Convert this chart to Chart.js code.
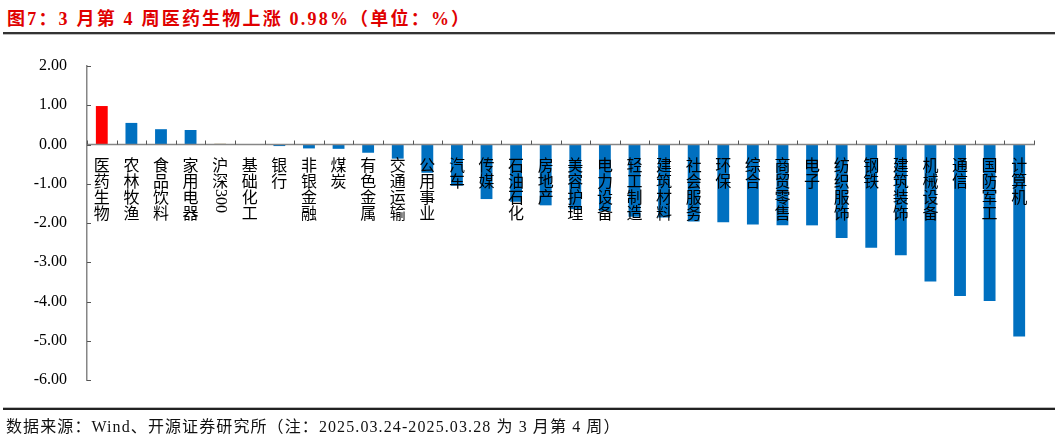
<!DOCTYPE html>
<html>
<head>
<meta charset="utf-8">
<script src="https://cdn.jsdelivr.net/npm/chart.js@4.4.1/dist/chart.umd.min.js"></script>
<style>
  html, body { margin: 0; padding: 0; background: #fff; }
  body { width: 1057px; height: 439px; position: relative; overflow: hidden; }
  #title {
    position: absolute; left: 7px; top: 4px;
    font: bold 18px "Liberation Serif", "Noto Sans CJK SC", serif;
    letter-spacing: 2.2px;
    color: #e00000; white-space: nowrap;
  }
  .rule { position: absolute; left: 3px; width: 1052px; }
  #topRule { top: 32px; height: 2px; background: #333; border-bottom: 1px solid #bbb; }
  #bottomRule { top: 407px; height: 2px; background: #222; border-top: 1px solid #bbb; }
  #source {
    position: absolute; left: 6px; top: 413px;
    font: 16px "Liberation Serif", "Noto Sans CJK SC", serif;
    letter-spacing: 1.1px;
    color: #111; white-space: nowrap;
  }
  #wrap { position: absolute; left: 0; top: 0; width: 1057px; height: 439px; }
</style>
</head>
<body>
<div id="title">图7：3 月第 4 周医药生物上涨 0.98%（单位：%）</div>
<div id="topRule" class="rule"></div>
<div id="wrap"><canvas id="c"></canvas></div>
<div id="bottomRule" class="rule"></div>
<div id="source">数据来源：Wind、开源证券研究所（注：2025.03.24-2025.03.28 为 3 月第 4 周）</div>
<script>
// 行业周涨跌幅（%），按图中顺序
const categories = [
  "医药生物", "农林牧渔", "食品饮料", "家用电器", "沪深300", "基础化工", "银行", "非银金融",
  "煤炭", "有色金属", "交通运输", "公用事业", "汽车", "传媒", "石油石化", "房地产",
  "美容护理", "电力设备", "轻工制造", "建筑材料", "社会服务", "环保", "综合", "商贸零售",
  "电子", "纺织服饰", "钢铁", "建筑装饰", "机械设备", "通信", "国防军工", "计算机"
];
const weeklyChange = [
  0.98, 0.55, 0.39, 0.37, 0.02, -0.01, -0.04, -0.10,
  -0.11, -0.21, -0.36, -0.72, -1.05, -1.39, -1.46, -1.55,
  -1.65, -1.70, -1.84, -1.86, -1.96, -1.98, -2.04, -2.06,
  -2.06, -2.38, -2.63, -2.82, -3.49, -3.86, -3.99, -4.89
];
const yTicks = [2, 1, 0, -1, -2, -3, -4, -5, -6];

const BLUE = "#0070c0";
const barColors = categories.map((c) =>
  c === "医药生物" ? "#ff0000" : c === "沪深300" ? "#a08c5a" : BLUE
);
const AXIS_LINE = "#868686";
const CJK = "'Noto Sans CJK SC', sans-serif";

// 零轴、向内的刻度线和竖排的行业名，都按库的比例尺来定位
const axisDecor = {
  id: "axisDecor",
  afterDatasetsDraw(chart) {
    const { ctx, scales: { x, y }, chartArea } = chart;
    const y0 = y.getPixelForValue(0);
    ctx.save();
    ctx.strokeStyle = AXIS_LINE;
    ctx.lineWidth = 1.5;
    ctx.beginPath();
    ctx.moveTo(chartArea.left, y0);
    ctx.lineTo(chartArea.right + 1, y0);
    ctx.stroke();

    ctx.lineWidth = 1;
    ctx.strokeStyle = "#555";
    ctx.beginPath();
    // x 轴刻度：类别分界处，向上
    for (let i = 0; i <= categories.length; i++) {
      const px = Math.round(x.getPixelForValue(i - 0.5)) + 0.5;
      ctx.moveTo(px, y0);
      ctx.lineTo(px, y0 - 4);
    }
    // y 轴刻度：向右
    yTicks.forEach((v) => {
      const py = Math.round(y.getPixelForValue(v)) + 0.5;
      ctx.moveTo(chartArea.left, py);
      ctx.lineTo(chartArea.left + 4, py);
    });
    ctx.stroke();

    // 竖排标签
    ctx.fillStyle = "#000";
    ctx.textBaseline = "top";
    categories.forEach((name, i) => {
      const cx = x.getPixelForValue(i);
      let cy = y0 + 12;
      const parts = name.match(/[0-9A-Za-z]+|./g);
      parts.forEach((p) => {
        if (/^[0-9A-Za-z]+$/.test(p)) {
          ctx.font = "16px 'Liberation Serif', serif";
          const w = ctx.measureText(p).width;
          ctx.save();
          ctx.translate(cx, cy);
          ctx.rotate(Math.PI / 2);
          ctx.textAlign = "left";
          ctx.textBaseline = "middle";
          ctx.fillText(p, 0, 0);
          ctx.restore();
          cy += w + 1;
        } else {
          ctx.font = "16px " + CJK;
          ctx.textAlign = "center";
          ctx.fillText(p, cx, cy);
          cy += 16.3;
        }
      });
    });
    ctx.restore();
  },
};

new Chart(document.getElementById("c").getContext("2d"), {
  type: "bar",
  data: {
    labels: categories,
    datasets: [
      {
        data: weeklyChange,
        backgroundColor: barColors,
        borderWidth: 0,
        categoryPercentage: 1,
        barPercentage: 0.4,
      },
    ],
  },
  options: {
    responsive: true,
    maintainAspectRatio: false,
    animation: false,
    layout: { padding: { top: 66, right: 23, bottom: 59, left: 0 } },
    plugins: { legend: { display: false }, tooltip: { enabled: false } },
    scales: {
      x: { display: false },
      y: {
        min: -6,
        max: 2,
        afterFit: (s) => { s.width = 87; },
        afterBuildTicks: (s) => { s.ticks = yTicks.map((v) => ({ value: v })); },
        grid: { display: false, drawTicks: false },
        border: { display: true, color: AXIS_LINE, width: 1.5 },
        ticks: {
          padding: 20,
          color: "#000",
          font: { family: "'Liberation Serif', serif", size: 16 },
          callback: (v) => Number(v).toFixed(2),
        },
      },
    },
  },
  plugins: [axisDecor],
});
</script>
</body>
</html>
